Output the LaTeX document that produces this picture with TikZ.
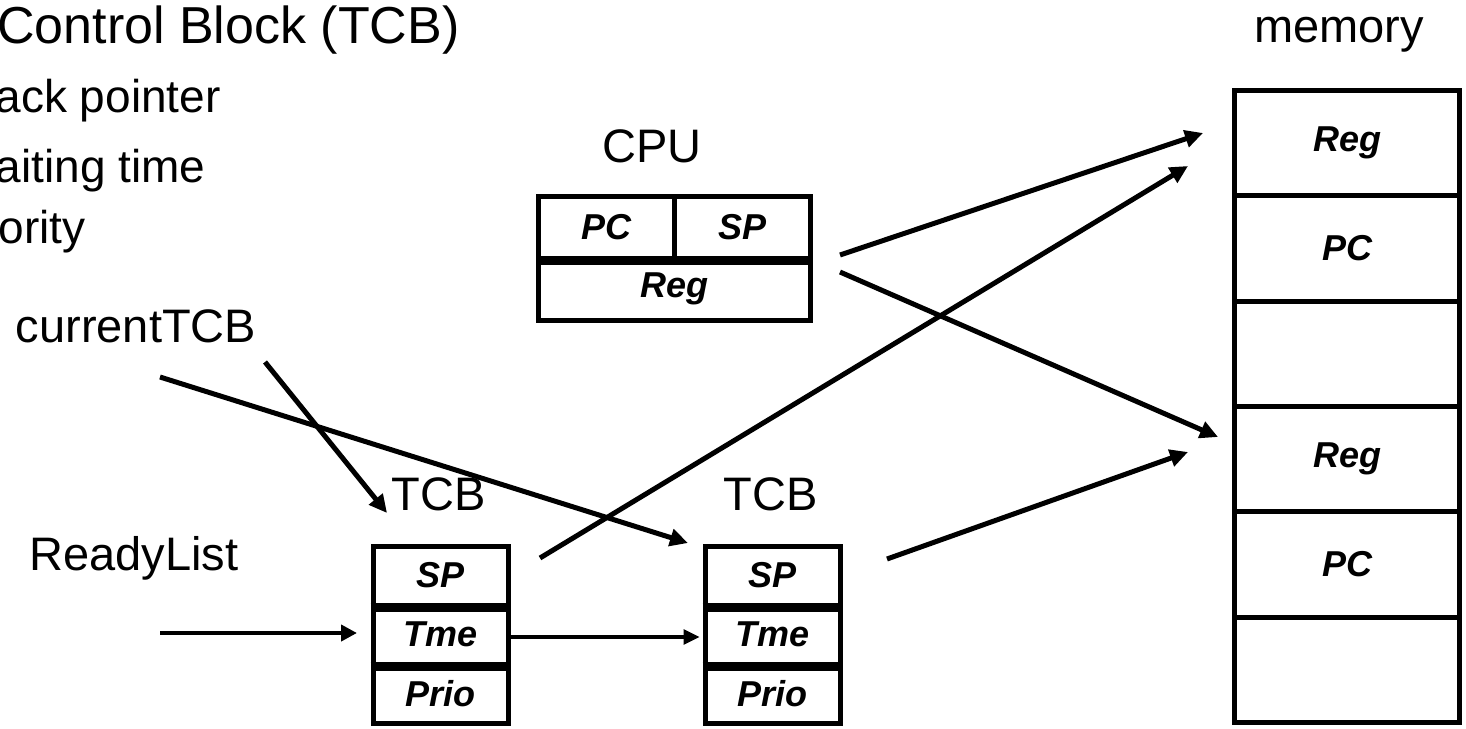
\documentclass[tikz,border=0pt]{standalone}
\usepackage{fontspec}
\setmainfont{Liberation Sans}
\usetikzlibrary{arrows.meta}
\begin{document}
\begin{tikzpicture}[x=0.5pt,y=-0.5pt,
  lbl/.style={inner sep=0pt, anchor=base, font=\fontsize{23.5}{28}\selectfont},
  bul/.style={inner sep=0pt, anchor=base east, font=\fontsize{23}{28}\selectfont},
  cell/.style={draw, line width=2.5pt, inner sep=0pt, font=\fontsize{18}{22}\selectfont\bfseries\itshape},
  tcbcell/.style={cell, minimum width=67.5pt, minimum height=29.5pt},
  memcell/.style={cell, minimum width=112.5pt, minimum height=52.67pt},
  divider/.style={line width=4.5pt},
  arr/.style={line width=2.5pt, -{Triangle[length=9pt,width=8.5pt]}},
  thinarr/.style={line width=2pt, -{Triangle[length=8pt,width=8pt]}},
]
\useasboundingbox (0,0) rectangle (1466,728);

% texts
\node[inner sep=0pt, anchor=base east, font=\fontsize{26}{30}\selectfont] (title) at (460,43) {Control Block (TCB)};
\node[bul] (b1) at (221,112) {ack pointer};
\node[bul] (b2) at (206,182) {aiting time};
\node[bul] (b3) at (86,243) {ority};
\node[lbl] (cpul) at (652,162) {CPU};
\node[lbl] (meml) at (1339,42) {memory};
\node[lbl] (tcb1l) at (438.5,510) {TCB};
\node[lbl] (tcb2l) at (770.5,510) {TCB};
\node[lbl] (ready) at (134,570) {ReadyList};
\node[lbl] (cur) at (136,342) {currentTCB};

% CPU
\node[cell, minimum width=67.75pt, minimum height=30.75pt] (cpupc) at (606.25,227.25) {PC};
\node[cell, minimum width=68.25pt, minimum height=30.75pt] (cpusp) at (742.25,227.25) {SP};
\node[cell, minimum width=136pt, minimum height=31.25pt] (cpureg) at (674.5,289.25) {Reg};
\draw[divider] (cpupc.south west) -- (cpusp.south east);

% TCB 1
\node[tcbcell] (t1sp) at (440.5,575.5) {SP};
\node[tcbcell] (t1tme) at (440.5,634.5) {Tme};
\node[tcbcell] (t1prio) at (440.5,693.5) {Prio};
\draw[divider] (t1sp.south west) -- (t1sp.south east);
\draw[divider] (t1tme.south west) -- (t1tme.south east);

% TCB 2
\node[tcbcell] (t2sp) at (772.5,575.5) {SP};
\node[tcbcell] (t2tme) at (772.5,634.5) {Tme};
\node[tcbcell] (t2prio) at (772.5,693.5) {Prio};
\draw[divider] (t2sp.south west) -- (t2sp.south east);
\draw[divider] (t2tme.south west) -- (t2tme.south east);

% memory
\node[memcell] (m1) at (1347,143.2) {Reg};
\node[memcell] (m2) at (1347,248.5) {PC};
\node[memcell] (m3) at (1347,353.8) {};
\node[memcell] (m4) at (1347,459.2) {Reg};
\node[memcell] (m5) at (1347,564.5) {PC};
\node[memcell] (m6) at (1347,669.8) {};

% connector end points
\coordinate (a1s) at (840,255);  \coordinate (a1e) at (1203,133);
\coordinate (a2s) at (840,272);  \coordinate (a2e) at (1218,437);
\coordinate (a3s) at (540,558);  \coordinate (a3e) at (1188,166);
\coordinate (a4s) at (887,559);  \coordinate (a4e) at (1188,452);
\coordinate (a5s) at (265,362);  \coordinate (a5e) at (387,513);
\coordinate (a6s) at (160,377);  \coordinate (a6e) at (688,543);
\coordinate (a7s) at (160,633);  \coordinate (a7e) at (357,633);

\draw[arr] (a1s) -- (a1e);
\draw[arr] (a2s) -- (a2e);
\draw[arr] (a3s) -- (a3e);
\draw[arr] (a4s) -- (a4e);
\draw[arr] (a5s) -- (a5e);
\draw[arr] (a6s) -- (a6e);
\draw[thinarr] (a7s) -- (a7e);
\draw[line width=1.6pt, -{Triangle[length=8pt,width=7.5pt]}] (t1tme.east |- 0,637) -- ([xshift=-1.5pt]t2tme.west |- 0,637);
\end{tikzpicture}
\end{document}
